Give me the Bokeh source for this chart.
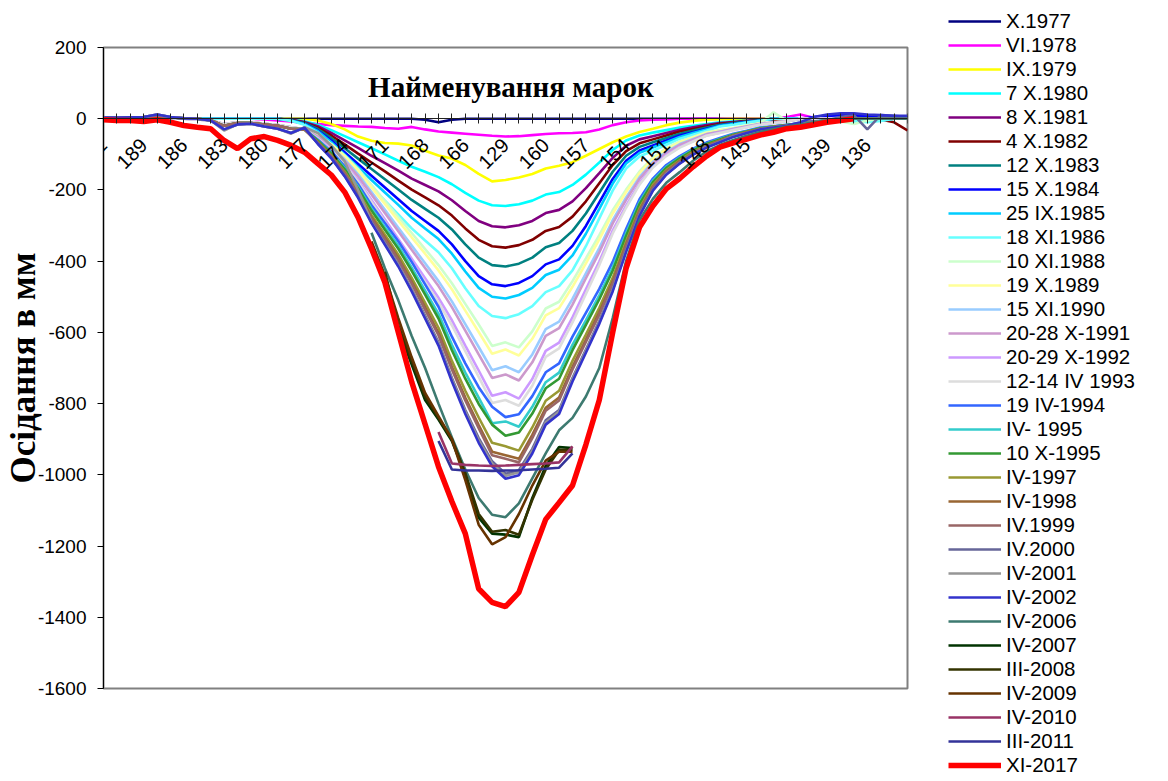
import numpy as np
from bokeh.plotting import figure
from bokeh.layouts import row
from bokeh.models import FixedTicker, Legend, LegendItem, Label
from bokeh.embed import file_html
from bokeh.resources import INLINE
from math import pi

# ---------------- data ----------------
x_index = list(range(61))
tick_positions = [0, 3, 6, 9, 12, 15, 18, 21, 24, 27, 30, 33, 36, 39, 42, 45, 48, 51, 54, 57]
tick_labels = ["191", "189", "186", "183", "180", "177", "174", "171", "168", "166",
               "129", "160", "157", "154", "151", "148", "145", "142", "139", "136"]
y_ticks = [200, 0, -200, -400, -600, -800, -1000, -1200, -1400, -1600]
y_tick_labels = ["200", "0", "-200", "-400", "-600", "-800", "-1000", "-1200", "-1400", "-1600"]

series_names = ["X.1977", "VI.1978", "IX.1979", "7 X.1980", "8 X.1981", "4 X.1982",
                "12 X.1983", "15 X.1984", "25 IX.1985", "18 XI.1986", "10 XI.1988",
                "19 X.1989", "15 XI.1990", "20-28 X-1991", "20-29 X-1992", "12-14 IV 1993",
                "19 IV-1994", "IV- 1995", "10 X-1995", "IV-1997", "IV-1998", "IV.1999",
                "IV.2000", "IV-2001", "IV-2002", "IV-2006", "IV-2007", "III-2008",
                "IV-2009", "IV-2010", "III-2011", "XI-2017"]

N = None
s_1977 = [0,0,0,0,0,0,0,0,0,0, 0,0,0,0,0,0,0,0,0,0, 0,0,0,0,-3,-10,-3,0,0,0,
          0,0,0,0,0,0,0,0,0,0, 0,0,0,0,0,0,0,0,0,0, 0,0,0,0,0,2,3,3,3,3, 3]
s_1978 = [0,0,0,0,0,0,0,0,0,0, 0,0,-2,-5,-8,-12,-15,-18,-20,-22,
          -23,-26,-28,-23,-30,-36,-39,-42,-45,-48, -50,-49,-46,-43,-41,-40,-38,-30,-18,-10,
          -5,-3,-2,0,0,0,0,0,0,0, 0,5,12,3,0,0,0,0,0,0, 0]
s_1979 = [0,0,0,0,0,0,0,0,0,0, 0,0,0,0,0,0,-5,-15,-30,-50,
          -62,-68,-70,-75,-90,-103,-112,-130,-155,-176, -172,-165,-155,-140,-132,-122,-104,-85,-66,-50,
          -37,-28,-18,-11,-6,-3,-1,0,0,0, 0,0,0,0,0,0,0,0,0,0, 0]
s_1980 = [0,0,0,0,0,0,0,0,0,0, 0,0,0,0,-2,-7,-17,-32,-49,-66,
          -83,-100,-118,-135,-149,-164,-184,-208,-230,-243, -245,-240,-230,-213,-206,-186,-157,-123,-88,-61,
          -47,-39,-32,-25,-20,-15,-10,-7,-5,-2, 0,0,0,0,0,-3,-8,-5,0,0, 0]
s_1981 = [0,0,0,0,0,0,0,0,0,0, 0,0,0,0,-3,-9,-21,-40,-61,-82,
          -104,-125,-146,-168,-186,-204,-229,-259,-287,-302, -305,-299,-287,-265,-256,-232,-195,-153,-110,-76,
          -58,-49,-40,-31,-24,-18,-12,-9,-6,-3, 0,0,0,0,0,0,0,0,0,0, 0]
s_1982 = [0,0,0,0,0,0,0,0,0,0, 0,0,0,0,-4,-11,-25,-47,-72,-98,
          -123,-148,-174,-199,-221,-243,-272,-308,-340,-358, -362,-355,-340,-315,-304,-275,-232,-181,-130,-91,
          -69,-58,-47,-36,-29,-22,-14,-11,-7,-4, -2,-2,-2,-2,-2,-2,-2,-2,-2,-10, -33]
s_1983 = [0,0,0,0,0,0,0,0,0,0, 0,0,0,0,-4,-12,-29,-54,-83,-112,
          -141,-170,-199,-228,-253,-278,-311,-353,-390,-411, -415,-407,-390,-361,-349,-315,-266,-208,-149,-104,
          -79,-66,-54,-42,-33,-25,-17,-12,-8,-4, 0,0,0,0,0,0,0,0,0,0, 0]
s_1984 = [0,0,0,0,0,0,0,0,0,0, 0,0,0,0,-5,-14,-33,-61,-94,-127,
          -160,-193,-226,-259,-287,-315,-353,-400,-442,-465, -470,-461,-442,-409,-395,-357,-301,-235,-169,-118,
          -89,-75,-61,-47,-38,-28,-19,-14,-9,-5, 0,0,0,5,8,10,10,8,6,5, 5]
s_1985 = [0,0,0,0,0,0,0,0,0,0, 0,0,0,0,-5,-15,-35,-66,-101,-136,
          -172,-207,-242,-278,-308,-338,-379,-429,-475,-500, -505,-495,-475,-439,-424,-384,-323,-253,-182,-126,
          -96,-81,-66,-51,-40,-30,-20,-15,-10,-5, 0,0,0,0,0,0,-5,-8,-5,0, 0]
s_1986 = [0,0,0,0,0,0,0,0,0,0, 0,0,0,0,-6,-17,-39,-73,-112,-151,
          -190,-230,-269,-308,-342,-375,-420,-476,-526,-554, -560,-549,-526,-487,-470,-426,-358,-280,-202,-140,
          -106,-90,-73,-56,-45,-34,-22,-17,-11,-6, 0,0,0,0,0,0,-6,-10,-6,0, 0]
s_1988 = [0,0,2,3,5,3,0,-2,-5,-15, -10,-10,-14,-18,-24,-30,-45,-71,-103,-141,
          -186,-231,-276,-321,-366,-411,-462,-520,-578,-638, -628,-642,-597,-533,-514,-456,-392,-327,-257,-199,
          -148,-109,-83,-64,-51,-38,-32,-26,-19,-13, 18,-6,-3,0,0,-8,-15,-5,0,0, 0]
s_1989 = [0,0,2,3,5,3,0,-2,-5,-15, -10,-10,-14,-18,-24,-30,-47,-73,-106,-146,
          -193,-239,-286,-333,-379,-426,-479,-539,-599,-660, -648,-665,-618,-552,-532,-472,-406,-339,-266,-206,
          -153,-113,-86,-67,-53,-40,-33,-27,-20,-13, -10,-7,0,0,0,0,0,0,0,0, 0]
s_1990 = [0,0,2,3,5,3,0,-2,-5,-15, -10,-10,-14,-18,-24,-30,-50,-78,-114,-157,
          -206,-256,-306,-356,-406,-456,-513,-577,-641,-706, -695,-712,-662,-591,-570,-506,-434,-363,-285,-221,
          -164,-121,-93,-71,-57,-43,-36,-28,-21,-14, -11,-7,0,0,0,0,0,0,0,0, 0]
s_1991 = [0,0,2,3,5,3,0,-2,-5,-15, -10,-10,-14,-18,-24,-30,-51,-81,-118,-162,
          -213,-265,-316,-368,-419,-470,-529,-595,-662,-728, -718,-735,-684,-610,-588,-522,-448,-375,-294,-228,
          -169,-125,-96,-74,-59,-44,-37,-29,-22,-15, -11,-7,0,0,0,0,0,0,0,0, 0]
s_1992 = [0,0,2,3,5,3,0,-2,-5,-15, -10,-10,-14,-18,-24,-30,-55,-86,-126,-173,
          -228,-283,-338,-393,-448,-503,-566,-637,-707,-778, -768,-786,-731,-652,-629,-558,-479,-401,-314,-244,
          -181,-134,-102,-79,-63,-47,-39,-31,-24,-16, -12,-8,0,0,0,0,0,0,0,0, 0]
s_1993 = [0,0,2,3,5,3,0,-2,-5,-15, -10,-10,-14,-18,-24,-30,-56,-89,-129,-177,
          -234,-290,-347,-403,-459,-516,-580,-653,-725,-798, -790,-806,-750,-669,-645,-572,-492,-411,-322,-250,
          -185,-137,-105,-81,-64,-48,-40,-32,-24,-16, -12,-8,0,0,0,0,0,0,0,0, 0]
s_1994 = [2,2,3,4,8,4,1,0,-4,-20, -12,-12,-16,-20,-28,-30,-59,-92,-134,-184,
          -243,-293,-344,-402,-465,-528,-612,-687,-754,-809, -838,-830,-779,-712,-687,-612,-545,-478,-402,-310,
          -226,-168,-130,-105,-84,-67,-54,-42,-34,-25, -21,-17,-13,-8,-4,0,0,0,0,0, 0]
s_1995a = [2,2,3,4,8,4,1,0,-4,-20, -12,-12,-16,-20,-28,-30,-61,-96,-139,-191,
           -252,-305,-357,-418,-483,-548,-635,-713,-783,-855, -850,-865,-809,-740,-713,-635,-566,-496,-418,-322,
           -235,-174,-135,-109,-87,-70,-57,-44,-35,-26, -22,-17,-13,-9,-4,0,0,0,0,0, 0]
s_1995b = [2,2,3,4,8,4,1,0,-4,-20, -12,-12,-16,-20,-28,-30,-62,-98,-142,-196,
           -258,-312,-365,-427,-494,-561,-650,-730,-801,-859, -890,-881,-828,-757,-730,-650,-579,-507,-427,-329,
           -240,-178,-138,-111,-89,-71,-58,-45,-36,-27, -22,-18,-13,-9,-4,0,0,0,0,0, 0]
s_1997 = [2,2,3,4,8,4,1,0,-4,-20, -12,-12,-16,-20,-28,-30,-65,-103,-149,-205,
          -270,-326,-382,-447,-517,-587,-680,-764,-839,-910, -920,-932,-867,-792,-764,-680,-606,-531,-447,-345,
          -252,-186,-144,-117,-93,-75,-61,-47,-37,-28, -23,-19,-14,-9,-5,0,0,0,0,0, 0]
s_1998 = [2,2,3,4,8,4,1,0,-4,-20, -12,-12,-16,-20,-28,-30,-67,-105,-153,-210,
          -277,-334,-392,-458,-530,-602,-697,-783,-860,-935, -945,-955,-888,-812,-783,-697,-621,-544,-458,-353,
          -258,-191,-148,-119,-96,-76,-62,-48,-38,-29, -24,-19,-14,-10,-5,0,0,0,0,0, 0]
s_1999 = [2,2,3,4,8,4,1,0,-4,-20, -12,-12,-16,-20,-28,-30,-68,-106,-154,-212,
          -280,-338,-396,-463,-536,-608,-704,-791,-869,-945, -955,-965,-897,-820,-791,-704,-627,-550,-463,-357,
          -261,-193,-150,-121,-97,-77,-63,-48,-39,-29, -24,-19,-14,-10,-5,0,0,0,0,0, 0]
s_2000 = [3,3,4,5,12,5,1,0,-5,-30, -16,-14,-22,-28,-40,-25,-70,-110,-160,-219,
          -289,-349,-409,-479,-553,-628,-728,-818,-897,-962, -997,-987,-927,-847,-818,-728,-648,-568,-479,-369,
          -269,-199,-155,-125,-100,-80,-65,-50,-40,-30, -25,-20,-15,-10,-5,5,10,-30,10,8, 5]
s_2001 = [3,3,4,5,12,5,1,0,-5,-33, -16,-14,-22,-28,-42,-24,-40,-75,-120,-200,
          -291,-351,-411,-481,-557,-632,-732,-822,-903,-968, -1003,-993,-933,-853,-822,-732,-652,-572,-481,-371,
          -271,-201,-155,-125,-100,-80,-65,-50,-40,-30, -25,-20,-15,-10,-5,0,0,0,0,0, 0]
s_2002 = [3,3,4,5,12,5,1,0,-5,-30, -16,-14,-22,-28,-40,-25,-71,-111,-162,-222,
          -293,-354,-415,-485,-561,-637,-738,-829,-910,-976, -1011,-1001,-940,-859,-829,-738,-657,-576,-485,-374,
          -273,-202,-157,-126,-101,-81,-66,-51,-40,-30, -25,-20,-10,5,12,15,15,12,10,8, 8]
s_2006 = [N,N,N,N,N,N,N,N,N,N, N,N,N,N,N,N,N,N,N,N,
          -320,-420,-510,-610,-700,-800,-895,-985,-1065,-1112, -1119,-1080,-1010,-940,-875,-840,-780,-700,-560,-400,
          -285,-225,-180,-150,-118,-92,-74,-60,-48,-37, -29,-22,-16,-10,-5,0,0,0,0,0, 0]
s_2007 = [N,N,N,N,N,N,N,N,N,N, N,N,N,N,N,N,N,N,N,N,
          N,-440,-590,-690,-790,-845,-905,-1000,-1120,-1165, -1168,-1175,-1065,-975,-922,-925,N,N,N,N,
          N,N,N,N,N,N,N,N,N,N, N,N,N,N,N,N,N,N,N,N, N]
s_2008 = [N,N,N,N,N,N,N,N,N,N, N,N,N,N,N,N,N,N,N,N,
          N,-430,-580,-680,-780,-840,-900,-995,-1110,-1160, -1155,-1168,-1070,-985,-930,-930,N,N,N,N,
          N,N,N,N,N,N,N,N,N,N, N,N,N,N,N,N,N,N,N,N, N]
s_2009 = [N,N,N,N,N,N,N,N,N,N, N,N,N,N,N,N,N,N,N,N,
          -345,-440,-560,-670,-770,-835,-900,-1015,-1140,-1195, -1175,-1110,-1030,-960,-935,-935,N,N,N,N,
          N,N,N,N,N,N,N,N,N,N, N,N,N,N,N,N,N,N,N,N, N]
s_2010 = [N,N,N,N,N,N,N,N,N,N, N,N,N,N,N,N,N,N,N,N,
          N,N,N,N,N,-880,-968,-972,-974,-975, -974,-972,-970,-968,-965,-920,N,N,N,N,
          N,N,N,N,N,N,N,N,N,N, N,N,N,N,N,N,N,N,N,N, N]
s_2011 = [N,N,N,N,N,N,N,N,N,N, N,N,N,N,N,N,N,N,N,N,
          N,N,N,N,N,-905,-985,-988,-988,-989, -988,-987,-985,-983,-980,-940,N,N,N,N,
          N,N,N,N,N,N,N,N,N,N, N,N,N,N,N,N,N,N,N,N, N]
s_2017 = [-3,-5,-5,-8,-3,-10,-19,-24,-28,-61, -84,-56,-50,-61,-75,-94,-126,-158,-206,-277,
          -365,-460,-600,-739,-858,-977,-1075,-1165,-1320,-1358, -1370,-1330,-1225,-1125,-1078,-1030,-915,-790,-600,-420,
          -305,-245,-197,-168,-135,-105,-80,-68,-57,-46, -38,-28,-24,-17,-10,-5,0,N,N,N, N]

series_values = [s_1977, s_1978, s_1979, s_1980, s_1981, s_1982, s_1983, s_1984, s_1985,
                 s_1986, s_1988, s_1989, s_1990, s_1991, s_1992, s_1993, s_1994, s_1995a,
                 s_1995b, s_1997, s_1998, s_1999, s_2000, s_2001, s_2002, s_2006, s_2007,
                 s_2008, s_2009, s_2010, s_2011, s_2017]

# ---------------- styles ----------------
series_colors = ["#000080", "#FF00FF", "#FFFF00", "#00FFFF", "#800080", "#800000",
                 "#008080", "#0000FF", "#00CCFF", "#66FFFF", "#CCFFCC", "#FFFF99",
                 "#99CCFF", "#CC99CC", "#CC99FF", "#DDDDDD", "#3366FF", "#33CCCC",
                 "#339933", "#999933", "#996633", "#996666", "#666699", "#969696",
                 "#3333CC", "#3D7A70", "#003300", "#333300", "#663300", "#993366",
                 "#333399", "#FF0000"]

def width_of(name):
    return 5.5 if name == "XI-2017" else 2.6

p = figure(width=930, height=779, x_range=(0, 60), y_range=(-1600, 200),
           output_backend="svg", toolbar_location=None,
           min_border_left=102, min_border_right=23, min_border_top=47, min_border_bottom=91)
p.background_fill_color = "white"
p.border_fill_color = "white"
p.outline_line_color = "#808080"
p.outline_line_width = 2
p.xgrid.visible = False
p.ygrid.visible = False

for name, vals, col in zip(series_names, series_values, series_colors):
    assert len(vals) == 61, name
    y = np.array(vals, dtype=float)
    p.line(x_index, y, line_color=col, line_width=width_of(name))

# x (category) axis crossing at zero
xa = p.xaxis[0]
xa.fixed_location = 0
xa.ticker = FixedTicker(ticks=x_index)
xa.minor_tick_line_color = None
xa.major_tick_in = 5
xa.major_tick_out = 5
xa.major_tick_line_color = "#202020"
xa.axis_line_color = "#202020"
overrides = {i: "" for i in x_index}
for pos, lab in zip(tick_positions, tick_labels):
    overrides[pos] = lab
xa.major_label_overrides = overrides
xa.major_label_orientation = pi / 4
xa.major_label_text_font = "Liberation Sans"
xa.major_label_text_font_size = "20px"
xa.major_label_text_color = "black"
xa.major_label_standoff = 18

ya = p.yaxis[0]
ya.ticker = FixedTicker(ticks=y_ticks)
ya.major_label_overrides = dict(zip(y_ticks, y_tick_labels))
ya.minor_tick_line_color = None
ya.major_tick_in = 0
ya.major_tick_out = 6
ya.axis_line_color = "black"
ya.major_tick_line_color = "black"
ya.major_label_text_font = "Liberation Sans"
ya.major_label_text_font_size = "19px"
ya.major_label_text_color = "black"
ya.major_label_standoff = 11
ya.axis_label = "Осідання в мм"
ya.axis_label_text_font = "Liberation Serif"
ya.axis_label_text_font_style = "bold"
ya.axis_label_text_font_size = "35px"
ya.axis_label_text_color = "black"
ya.axis_label_standoff = -8

title = Label(x=30.4, y=90, text="Найменування марок", text_font="Liberation Serif",
              text_font_style="bold", text_font_size="29px", text_align="center",
              text_baseline="middle", text_color="black")
p.add_layout(title)

# legend panel (same names / colours as the series; one-point lines draw nothing)
lg = figure(width=235, height=779, x_range=(0, 1), y_range=(0, 1),
            output_backend="svg", toolbar_location=None, min_border=0,
            x_axis_location=None, y_axis_location=None)
lg.outline_line_color = None
lg.xgrid.visible = False
lg.ygrid.visible = False
try:
    lg.frame_align = False
    p.frame_align = False
except Exception:
    pass
items = []
for name, vals, col in zip(series_names, series_values, series_colors):
    first = np.array(vals[:1], dtype=float)
    r = lg.line(x=x_index[:1], y=first, line_color=col, line_width=width_of(name))
    items.append(LegendItem(label=name, renderers=[r]))
legend = Legend(items=items, location=(18, 2), ncols=1, glyph_width=53, glyph_height=24,
                label_height=24, spacing=0, padding=0, margin=0, label_standoff=5,
                label_text_font="Liberation Sans", label_text_font_size="20.5px",
                label_text_color="black", border_line_color=None,
                background_fill_alpha=0)
lg.add_layout(legend)

layout = row(p, lg)
open("out.html", "w").write(file_html(layout, INLINE))
